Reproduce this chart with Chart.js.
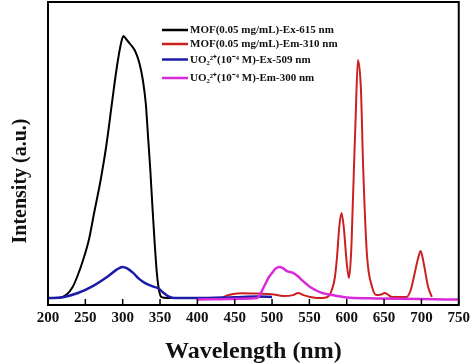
<!DOCTYPE html>
<html>
<head>
<meta charset="utf-8">
<script src="https://cdn.jsdelivr.net/npm/chart.js@4.4.1/dist/chart.umd.min.js"></script>
<style>
  html, body { margin: 0; padding: 0; background: #fff; }
  #wrap { width: 474px; height: 364px; }
</style>
</head>
<body>
<div id="wrap"><canvas id="chart"></canvas></div>
<script>
// --- Spectra (wavelength nm / intensity a.u.) ---
const xTicks = [200, 250, 300, 350, 400, 450, 500, 550, 600, 650, 700, 750];

const exMofWl  = [200, 215, 225, 233, 240, 247, 255, 262, 270, 278, 286, 292, 298, 301, 305, 310, 316, 322, 327, 331, 334, 337, 340, 343, 346, 349, 352, 360, 400];
const exMofInt = [2.3, 2.4, 3.5, 6, 10, 15, 22, 31, 41, 53, 68, 79, 87.5, 89.7, 88.5, 87, 85, 81, 75, 67, 56, 45, 32, 20, 10, 4.5, 2.6, 2.3, 2.3];

const emMofWl  = [434, 440, 448, 460, 480, 500, 515, 528, 535, 542, 551, 568, 576, 580, 584, 587, 590, 593, 596, 600, 603, 606, 608, 610, 612, 615, 619, 622, 627, 634, 640, 646, 651, 656, 660, 680, 685, 689, 695, 699, 703, 709, 714];
const emMofInt = [2.4, 3.2, 3.7, 3.9, 3.8, 3.6, 3.0, 3.3, 4.0, 3.3, 2.7, 2.3, 3.0, 5, 9, 16, 26, 30.7, 26, 14, 9, 18, 32.7, 48, 63, 81.7, 72, 46, 17, 6, 3.3, 3.5, 4, 3.3, 2.7, 2.7, 4.5, 8.3, 15, 18, 14, 6, 2.7];

const exUWl  = [200, 220, 240, 260, 280, 292, 300, 306, 314, 322, 330, 340, 348, 355, 362, 370, 400, 450, 480, 500];
const exUInt = [2.3, 2.6, 4, 6.3, 9.5, 11.8, 12.7, 12.2, 10.7, 8.7, 7.3, 6.2, 5.5, 4, 2.8, 2.3, 2.3, 2.6, 2.8, 2.7];

const emUWl  = [400, 420, 440, 460, 480, 485, 490, 495, 500, 505, 510, 515, 520, 528, 535, 540, 546, 551, 558, 564, 572, 581, 592, 604, 640, 700, 750];
const emUInt = [1.8, 1.9, 2.0, 2.1, 2.3, 4, 6.5, 9, 10.7, 12.2, 12.7, 12.2, 11.3, 10.7, 9.5, 8.3, 7, 6, 5, 4.3, 3.7, 3.3, 2.8, 2.4, 2.2, 2.0, 1.8];

const labels = [
    'MOF(0.05 mg/mL)-Ex-615 nm',
    'MOF(0.05 mg/mL)-Em-310 nm',
    'UO\u2082\u00B2\u207A(10\u207B\u2074 M)-Ex-509 nm',
    'UO\u2082\u00B2\u207A(10\u207B\u2074 M)-Em-300 nm'
];
const colors = ['#000000', '#cc2020', '#1c1ca8', '#d82ad8'];

const toPoints = (xs, ys) => xs.map((x, i) => ({ x: x, y: ys[i] }));

const serif = 'Liberation Serif, Times New Roman, serif';

// frame, inward ticks, y title, legend
const decor = {
    id: 'decor',
    afterDraw(chart) {
        const ctx = chart.ctx;
        const a = chart.chartArea;
        const xs = chart.scales.x;
        ctx.save();
        ctx.strokeStyle = '#000';
        ctx.lineWidth = 2;
        ctx.strokeRect(a.left, a.top, a.right - a.left, a.bottom - a.top);
        ctx.lineWidth = 1.5;
        xTicks.forEach(t => {
            const px = xs.getPixelForValue(t);
            ctx.beginPath();
            ctx.moveTo(px, a.bottom);
            ctx.lineTo(px, a.bottom - 6);
            ctx.stroke();
        });

        // y axis title
        ctx.fillStyle = '#111';
        ctx.font = 'bold 20px ' + serif;
        ctx.textAlign = 'center';
        ctx.textBaseline = 'middle';
        ctx.translate(21, 181);
        ctx.rotate(-Math.PI / 2);
        ctx.fillText('Intensity (a.u.)', 0, 0);
        ctx.restore();

        // legend
        ctx.save();
        const rows = [30, 44, 59.5, 78];
        ctx.font = 'bold 11px ' + serif;
        ctx.textAlign = 'left';
        ctx.textBaseline = 'middle';
        chart.data.datasets.forEach((ds, i) => {
            ctx.strokeStyle = ds.borderColor;
            ctx.lineWidth = 2.5;
            ctx.beginPath();
            ctx.moveTo(162, rows[i]);
            ctx.lineTo(188, rows[i]);
            ctx.stroke();
            ctx.fillStyle = '#111';
            ctx.fillText(ds.label, 190, rows[i] + 0.5);
        });
        ctx.restore();
    }
};

const series = [
    toPoints(exMofWl, exMofInt),
    toPoints(emMofWl, emMofInt),
    toPoints(exUWl, exUInt),
    toPoints(emUWl, emUInt)
];
const widths = [2, 2, 2.5, 2.5];
const orders = [4, 3, 2, 1];

new Chart(document.getElementById('chart').getContext('2d'), {
    type: 'line',
    data: {
        datasets: series.map((pts, i) => ({
            label: labels[i],
            data: pts,
            borderColor: colors[i],
            borderWidth: widths[i],
            pointRadius: 0,
            fill: false,
            cubicInterpolationMode: 'monotone',
            order: orders[i]
        }))
    },
    options: {
        responsive: true,
        maintainAspectRatio: false,
        animation: false,
        layout: { padding: { top: 2, right: 15, left: 0, bottom: 0 } },
        plugins: { legend: { display: false }, tooltip: { enabled: false } },
        scales: {
            x: {
                type: 'linear',
                min: 200,
                max: 750,
                afterBuildTicks: s => { s.ticks = xTicks.map(v => ({ value: v })); },
                afterFit: s => { s.height = 59; },
                grid: { display: false, drawTicks: false },
                border: { display: false },
                ticks: {
                    padding: 4,
                    color: '#111',
                    font: { family: serif, weight: 'bold', size: 15 }
                },
                title: {
                    display: true,
                    text: 'Wavelength (nm)',
                    color: '#111',
                    padding: { top: 4, bottom: -2 },
                    font: { family: serif, weight: 'bold', size: 24 }
                }
            },
            y: {
                min: 0,
                max: 101,
                afterFit: s => { s.width = 48; },
                grid: { display: false },
                border: { display: false },
                ticks: { display: false }
            }
        }
    },
    plugins: [decor]
});
</script>
</body>
</html>
